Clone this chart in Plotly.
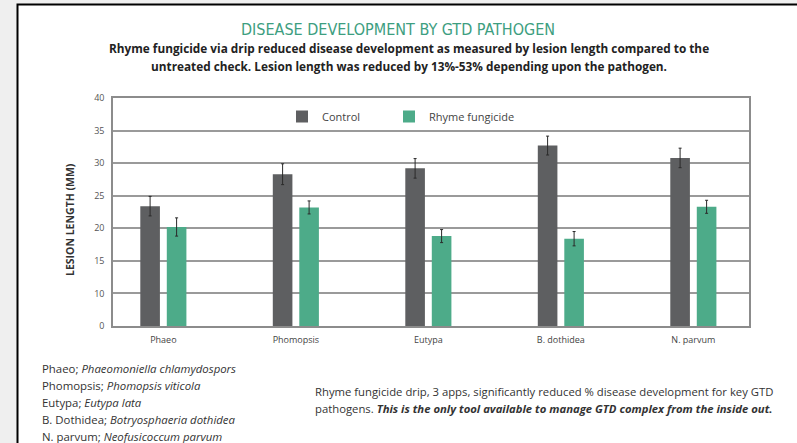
import plotly.graph_objects as go

# ---------------- data ----------------
categories = ["Phaeo", "Phomopsis", "Eutypa", "B. dothidea", "N. parvum"]
control = [23.4, 28.3, 29.2, 32.7, 30.8]
control_err = [1.5, 1.6, 1.5, 1.45, 1.5]
fungicide = [20.2, 23.2, 18.8, 18.4, 23.3]
fungicide_err = [1.4, 1.0, 1.0, 1.1, 1.0]
series_names = ["Control", "Rhyme fungicide"]
tick_values = [5, 10, 15, 20, 25, 30, 35, 40]
tick_labels = ["0", "10", "15", "20", "25", "30", "35", "40"]

title_text = "DISEASE DEVELOPMENT BY GTD PATHOGEN"
subtitle_lines = [
    "Rhyme fungicide via drip reduced disease development as measured by lesion length compared to the",
    "untreated check. Lesion length was reduced by 13%-53% depending upon the pathogen.",
]
key_abbrev = ["Phaeo", "Phomopsis", "Eutypa", "B. Dothidea", "N. parvum"]
key_names = ["Phaeomoniella chlamydospors", "Phomopsis viticola", "Eutypa lata",
             "Botryosphaeria dothidea", "Neofusicoccum parvum"]
note_line1 = "Rhyme fungicide drip, 3 apps, significantly reduced % disease development for key GTD"
note_line2_plain = "pathogens. "
note_line2_bold = "This is the only tool available to manage GTD complex from the inside out."

# ---------------- layout geometry (pixels) ----------------
W, H = 797, 443
L, R, T, B = 113, 749, 98, 326

def px(x):
    return (x - L) / (R - L)

def py(y):
    return (B - y) / (B - T)

C_CTRL = "#5e5f61"
C_FUNG = "#4dab89"
TXT = "#333333"
FONT = "Open Sans, sans-serif"

fig = go.Figure()
fig.add_trace(go.Bar(
    x=categories, y=control, name=series_names[0], marker_color=C_CTRL,
    marker_line_width=0, legend="legend",
    error_y=dict(type="data", array=control_err, color="#2a2a2a", thickness=1, width=1.5),
))
fig.add_trace(go.Bar(
    x=categories, y=fungicide, name=series_names[1], marker_color=C_FUNG,
    marker_line_width=0, legend="legend2",
    error_y=dict(type="data", array=fungicide_err, color="#2a2a2a", thickness=1, width=1.5),
))

annotations = []
annotations.append(dict(
    text=title_text, x=px(398), y=py(30), xref="paper", yref="paper",
    xanchor="center", yanchor="middle", showarrow=False,
    font=dict(family="DejaVu Sans Condensed, Liberation Sans Narrow, sans-serif", size=16, color="#3d9e80"),
))
for line, yy in zip(subtitle_lines, [48, 66]):
    annotations.append(dict(
        text="<b>" + line + "</b>", x=px(409), y=py(yy), xref="paper", yref="paper",
        xanchor="center", yanchor="middle", showarrow=False,
        font=dict(family=FONT, size=11.8, color="#222222"),
    ))
annotations.append(dict(
    text="<b>LESION LENGTH (MM)</b>", x=px(70), y=py(220), xref="paper", yref="paper",
    xanchor="center", yanchor="middle", showarrow=False, textangle=-90,
    font=dict(family=FONT, size=10.5, color="#333333"),
))
for abbr, name, yy in zip(key_abbrev, key_names, [368, 385, 402, 419, 436]):
    annotations.append(dict(
        text=abbr + "; <i>" + name + "</i>", x=px(40), y=py(yy), xref="paper", yref="paper",
        xanchor="left", yanchor="middle", showarrow=False,
        font=dict(family=FONT, size=11.4, color=TXT),
    ))
annotations.append(dict(
    text=note_line1, x=px(313), y=py(391), xref="paper", yref="paper",
    xanchor="left", yanchor="middle", showarrow=False,
    font=dict(family=FONT, size=11.3, color=TXT),
))
annotations.append(dict(
    text=note_line2_plain + "<b><i>" + note_line2_bold + "</i></b>", x=px(313), y=py(408),
    xref="paper", yref="paper", xanchor="left", yanchor="middle", showarrow=False,
    font=dict(family=FONT, size=11.3, color=TXT),
))

shapes = [dict(
    type="rect", xref="paper", yref="paper", layer="below",
    x0=px(17.5), x1=px(820), y0=py(470), y1=py(4.5),
    fillcolor="white", line=dict(color="black", width=2),
)]

legend_common = dict(
    orientation="h", yanchor="middle", bgcolor="rgba(0,0,0,0)",
    font=dict(family=FONT, size=11, color="#444444"),
)

fig.update_layout(
    width=W, height=H,
    margin=dict(l=L, r=W - R, t=T, b=H - B, pad=0),
    paper_bgcolor="#efefef", plot_bgcolor="white",
    barmode="group", bargap=0.6, bargroupgap=0.26,
    showlegend=True,
    legend=dict(x=px(282), y=py(116.5), xanchor="left", **legend_common),
    legend2=dict(x=px(389), y=py(116.5), xanchor="left", **legend_common),
    annotations=annotations, shapes=shapes,
    font=dict(family=FONT, color="#555555"),
)
fig.update_xaxes(
    range=[-0.38, 4.42], showgrid=False, showline=True, linecolor="#8c8c8c", linewidth=1.5,
    mirror=True, ticks="", tickfont=dict(size=9, color="#444444"), ticklabelstandoff=4,
)
fig.update_yaxes(
    range=[5, 40], tickvals=tick_values, ticktext=tick_labels,
    showgrid=True, gridcolor="#9a9a9a", gridwidth=1.5,
    showline=True, linecolor="#8c8c8c", linewidth=1.5, mirror=True,
    ticks="", tickfont=dict(size=9, color="#555555"), zeroline=False, ticklabelstandoff=5,
)

fig.write_html(
    "out.html",
    config={"displayModeBar": False},
    post_script="document.body.style.margin='0';document.body.style.background='#efefef';",
)
